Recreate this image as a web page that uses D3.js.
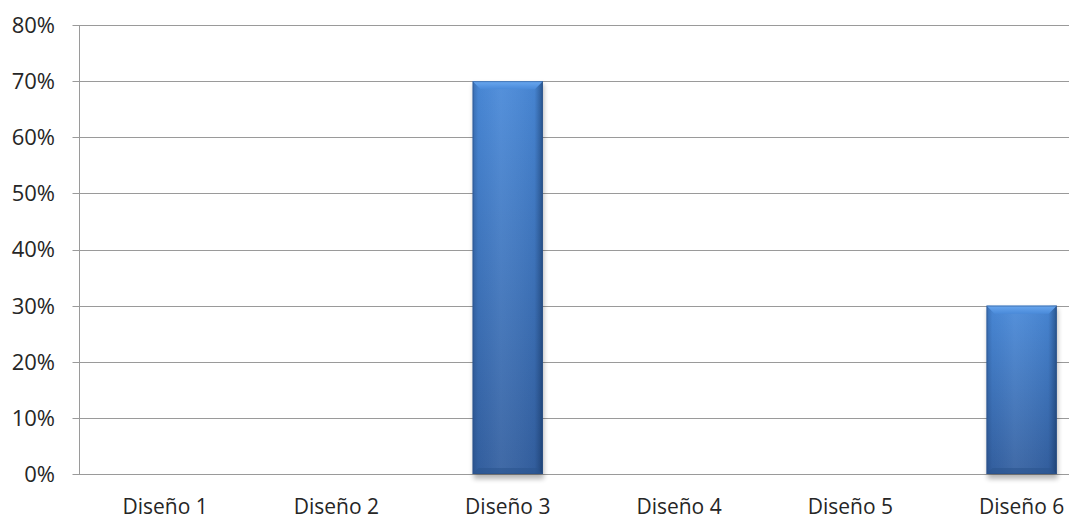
<!DOCTYPE html>
<html><head><meta charset="utf-8">
<script src="https://cdn.jsdelivr.net/npm/d3@7"></script>
<style>body{margin:0;background:#fff}svg{display:block}text{font-family:"Open Sans","Noto Sans",sans-serif;fill:#262626}</style>
</head><body><svg id="c" width="1069" height="520"></svg>
<script>
const categories = ["Diseño 1","Diseño 2","Diseño 3","Diseño 4","Diseño 5","Diseño 6"];
const values = [0, 0, 0.70, 0, 0, 0.30];
const yTicks = [0,0.1,0.2,0.3,0.4,0.5,0.6,0.7,0.8];

const svg = d3.select("#c");
const mLeft = 79.5, mRight = 79.5 + 171.3*6, mTop = 25, mBottom = 474;
const x = d3.scaleBand().domain(categories).range([mLeft, mRight]).paddingInner(0.59).paddingOuter(0.295);
const y = d3.scaleLinear().domain([0, 0.8]).range([mBottom, mTop]);

const defs = svg.append("defs");
const gv = defs.append("linearGradient").attr("id","gv").attr("x1",0).attr("y1",0).attr("x2",0).attr("y2",1);
gv.append("stop").attr("offset","0%").attr("stop-color","#4a8ad9");
gv.append("stop").attr("offset","100%").attr("stop-color","#3460a0");
const gh = defs.append("linearGradient").attr("id","gh").attr("x1",0).attr("y1",0).attr("x2",1).attr("y2",0);
gh.append("stop").attr("offset","0%").attr("stop-color","#1a3a6a").attr("stop-opacity",0.35);
gh.append("stop").attr("offset","8%").attr("stop-color","#1a3a6a").attr("stop-opacity",0.05);
gh.append("stop").attr("offset","40%").attr("stop-color","#ffffff").attr("stop-opacity",0.06);
gh.append("stop").attr("offset","88%").attr("stop-color","#1a3a6a").attr("stop-opacity",0.08);
gh.append("stop").attr("offset","100%").attr("stop-color","#0e2a50").attr("stop-opacity",0.55);
const gt = defs.append("linearGradient").attr("id","gt").attr("x1",0).attr("y1",0).attr("x2",0).attr("y2",1);
gt.append("stop").attr("offset","0%").attr("stop-color","#6aa8f0");
gt.append("stop").attr("offset","100%").attr("stop-color","#4a8ad9");
const sh = defs.append("filter").attr("id","sh").attr("x","-20%").attr("y","-20%").attr("width","140%").attr("height","140%");
sh.append("feGaussianBlur").attr("stdDeviation",2.5);

// gridlines
svg.append("g").selectAll("line").data(yTicks).join("line")
  .attr("x1", mLeft-7).attr("x2", 1069)
  .attr("y1", d=>Math.round(y(d))+0.5).attr("y2", d=>Math.round(y(d))+0.5)
  .attr("stroke","#9a9a9a").attr("stroke-width",1);
// y axis line
svg.append("line").attr("x1",mLeft).attr("x2",mLeft).attr("y1",mTop).attr("y2",mBottom)
  .attr("stroke","#9a9a9a").attr("stroke-width",1);

// y tick labels
svg.append("g").selectAll("text").data(yTicks).join("text")
  .attr("x", 55).attr("y", d=>y(d)).attr("dy","0.36em").attr("text-anchor","end")
  .attr("font-size",22).text(d=>d3.format(".0%")(d));

// x labels
svg.append("g").selectAll("text").data(categories).join("text")
  .attr("x", d=>x(d)+x.bandwidth()/2).attr("y", 514).attr("text-anchor","middle")
  .attr("font-size",21).text(d=>d);

const data = categories.map((c,i)=>({c, v: values[i]})).filter(d=>d.v>0);
const bars = svg.append("g").selectAll("g").data(data).join("g");
// shadow
bars.append("rect").attr("x", d=>x(d.c)+1).attr("y", d=>y(d.v)+3).attr("width", x.bandwidth())
  .attr("height", d=>y(0)-y(d.v)+2).attr("fill","#000").attr("opacity",0.28).attr("filter","url(#sh)");
bars.append("rect").attr("x", d=>x(d.c)).attr("y", d=>y(d.v)).attr("width", x.bandwidth())
  .attr("height", d=>y(0)-y(d.v)).attr("fill","url(#gv)");
bars.append("rect").attr("x", d=>x(d.c)).attr("y", d=>y(d.v)).attr("width", x.bandwidth())
  .attr("height", d=>y(0)-y(d.v)).attr("fill","url(#gh)");
// top bevel
const bv = 8;
bars.append("path").attr("d", d=>{
  const x0 = x(d.c), x1 = x0 + x.bandwidth(), t = y(d.v);
  return `M${x0},${t}L${x1},${t}L${x1-bv},${t+bv}L${x0+bv},${t+bv}Z`;
}).attr("fill","url(#gt)");
// bottom darker band
bars.append("path").attr("d", d=>{
  const x0 = x(d.c), x1 = x0 + x.bandwidth(), b = y(0);
  return `M${x0},${b}L${x1},${b}L${x1-6},${b-6}L${x0+6},${b-6}Z`;
}).attr("fill","#2c5590").attr("opacity",0.6);
// edge outline
bars.append("rect").attr("x", d=>x(d.c)+0.5).attr("y", d=>y(d.v)+0.5).attr("width", x.bandwidth()-1)
  .attr("height", d=>y(0)-y(d.v)-1).attr("fill","none").attr("stroke","#2a5088").attr("stroke-opacity",0.5);
</script></body></html>
